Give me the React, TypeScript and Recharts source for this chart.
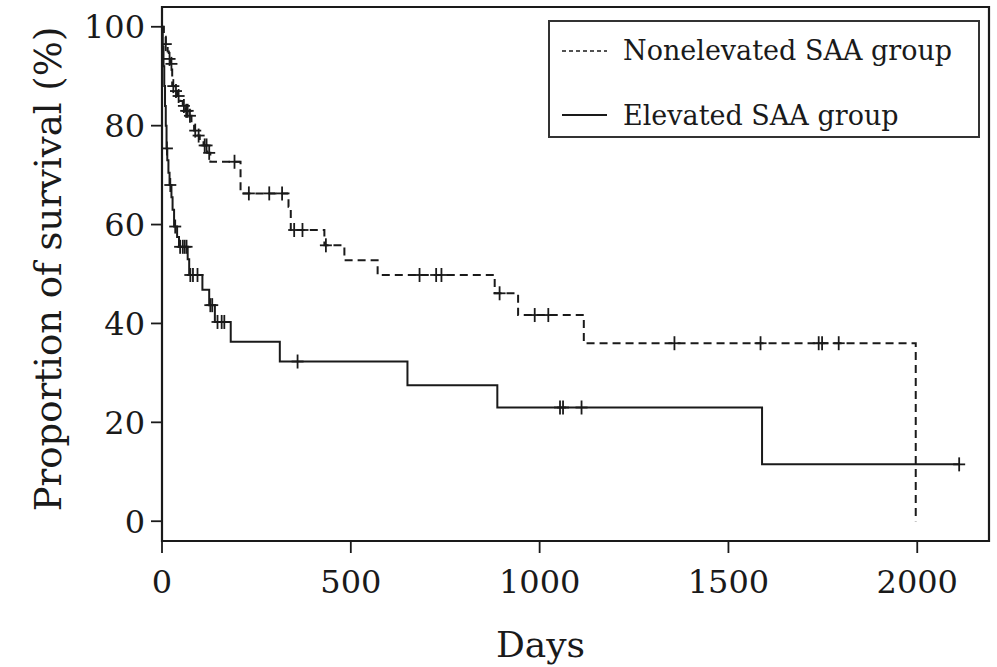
import React from 'react';
import { ComposedChart, Line, Scatter, XAxis, YAxis, ReferenceArea, Legend, Label } from 'recharts';

// Nonelevated SAA group: Kaplan-Meier step points (days, % survival)
const nonelevatedTimes = [0, 5, 10, 15, 18, 22, 27, 33, 40, 48, 55, 62, 70, 78, 85, 92, 100, 110, 120, 128, 208, 335, 341, 430, 483, 571, 881, 943, 1117, 1996];
const nonelevatedSurv = [100, 98, 96.5, 95, 93.5, 92.5, 88, 87, 86, 85, 84, 83, 82, 80.5, 79, 78, 77, 76, 74.5, 72.7, 66.3, 63.6, 58.9, 55.8, 52.8, 49.8, 46.1, 41.7, 36.0, 0];
// Nonelevated censor marks
const nonelevatedCensorTimes = [10, 20, 25, 30, 37, 44, 58, 64, 68, 74, 88, 97, 113, 118, 125, 192, 230, 284, 318, 350, 372, 434, 682, 726, 740, 894, 987, 1023, 1357, 1585, 1739, 1748, 1792];
const nonelevatedCensorSurv = [96.5, 93.5, 92.5, 88, 87, 86, 84, 83, 83, 82, 79, 78, 76, 76, 74.5, 72.7, 66.3, 66.3, 66.3, 58.9, 58.9, 55.8, 49.8, 49.8, 49.8, 46.1, 41.7, 41.7, 36, 36, 36, 36, 36];

// Elevated SAA group
const elevatedTimes = [0, 2, 4, 6, 8, 10, 12, 14, 17, 20, 25, 28, 32, 40, 45, 68, 72, 107, 125, 140, 182, 312, 650, 888, 1589, 2111];
const elevatedSurv = [100, 96, 92, 88, 84, 80, 75.4, 73, 70.5, 68, 65.5, 63, 59.6, 57.5, 55.5, 53, 49.8, 46.8, 43.7, 40.3, 36.3, 32.3, 27.5, 23.0, 11.5, 11.5];
const elevatedCensorTimes = [13, 22, 35, 48, 55, 60, 65, 75, 82, 94, 128, 133, 147, 158, 165, 359, 1054, 1062, 1111, 2111];
const elevatedCensorSurv = [75.4, 68, 59.6, 55.5, 55.5, 55.5, 55.5, 49.8, 49.8, 49.8, 43.7, 43.7, 40.3, 40.3, 40.3, 32.3, 23, 23, 23, 11.5];

const xTicks = [0, 500, 1000, 1500, 2000];
const yTicks = [0, 20, 40, 60, 80, 100];
const seriesNames = ['Nonelevated SAA group', 'Elevated SAA group'];

const zip = (t: number[], s: number[]) => t.map((v, i) => ({ t: v, s: s[i] }));
const nonelevatedData = zip(nonelevatedTimes, nonelevatedSurv);
const elevatedData = zip(elevatedTimes, elevatedSurv);
const nonelevatedCensor = zip(nonelevatedCensorTimes, nonelevatedCensorSurv);
const elevatedCensor = zip(elevatedCensorTimes, elevatedCensorSurv);

const INK = '#1a1a1a';
const FONT = '"DejaVu Serif", serif';

const CensorMark = (props: any) => {
  const { cx, cy } = props;
  if (cx == null || cy == null) return null;
  return (
    <g>
      <line x1={cx - 6} x2={cx + 6} y1={cy} y2={cy} stroke={INK} strokeWidth={1.8} />
      <line x1={cx} x2={cx} y1={cy - 7} y2={cy + 7} stroke={INK} strokeWidth={1.8} />
    </g>
  );
};

const LegendBox = () => (
  <div
    style={{
      position: 'relative',
      width: 432,
      height: 118,
      border: '2px solid #333',
      boxSizing: 'border-box',
      background: '#fff',
      fontFamily: FONT,
      fontSize: 27,
      color: INK,
    }}
  >
    <svg width={70} height={118} style={{ position: 'absolute', left: 0, top: 0 }}>
      <line x1={12} x2={57} y1={29} y2={29} stroke={INK} strokeWidth={1.5} strokeDasharray="4 3" />
      <line x1={12} x2={57} y1={93} y2={93} stroke={INK} strokeWidth={1.8} />
    </svg>
    <div style={{ position: 'absolute', left: 73, top: 11, whiteSpace: 'nowrap', lineHeight: '36px' }}>{seriesNames[0]}</div>
    <div style={{ position: 'absolute', left: 73, top: 76, whiteSpace: 'nowrap', lineHeight: '36px' }}>{seriesNames[1]}</div>
  </div>
);

export default function App() {
  return (
    <div style={{ width: 997, height: 667, background: '#fff' }}>
      <style>{'body{margin:0;background:#fff;}'}</style>
      <ComposedChart width={997} height={667} margin={{ top: 7, right: 8, bottom: 0, left: 0 }}>
        <XAxis
          dataKey="t"
          type="number"
          domain={[0, 2190]}
          allowDataOverflow
          ticks={xTicks}
          tickSize={12}
          tickMargin={17}
          height={126}
          axisLine={false}
          tickLine={{ stroke: INK, strokeWidth: 1.8 }}
          tick={{ fontFamily: FONT, fontSize: 32, fill: INK }}
        >
          <Label value="Days" position="insideBottom" offset={10} dx={-35} fontFamily={FONT} fontSize={36} fill={INK} />
        </XAxis>
        <YAxis
          type="number"
          domain={[-4, 104]}
          allowDataOverflow
          ticks={yTicks}
          tickSize={11}
          tickMargin={6}
          width={162}
          axisLine={false}
          tickLine={{ stroke: INK, strokeWidth: 1.8 }}
          tick={{ fontFamily: FONT, fontSize: 32, fill: INK }}
        >
          <Label value="Proportion of survival (%)" position="center" angle={-90} dx={-33} dy={-5} fontFamily={FONT} fontSize={37} fill={INK} />
        </YAxis>
        <ReferenceArea x1={0} x2={2190} y1={-4} y2={104} fill="none" stroke={INK} strokeWidth={2.2} fillOpacity={0} />
        <Line
          data={nonelevatedData}
          dataKey="s"
          type="stepAfter"
          stroke={INK}
          strokeWidth={2}
          strokeDasharray="8 5"
          dot={false}
          activeDot={false}
          isAnimationActive={false}
          name={seriesNames[0]}
        />
        <Line
          data={elevatedData}
          dataKey="s"
          type="stepAfter"
          stroke={INK}
          strokeWidth={2}
          dot={false}
          activeDot={false}
          isAnimationActive={false}
          name={seriesNames[1]}
        />
        <Scatter data={nonelevatedCensor} dataKey="s" shape={<CensorMark />} isAnimationActive={false} legendType="none" />
        <Scatter data={elevatedCensor} dataKey="s" shape={<CensorMark />} isAnimationActive={false} legendType="none" />
        <Legend
          layout="horizontal"
          verticalAlign="middle"
          align="center"
          content={<LegendBox />}
          wrapperStyle={{ position: 'absolute', left: 548, top: 20, width: 432, height: 118 }}
        />
      </ComposedChart>
    </div>
  );
}
